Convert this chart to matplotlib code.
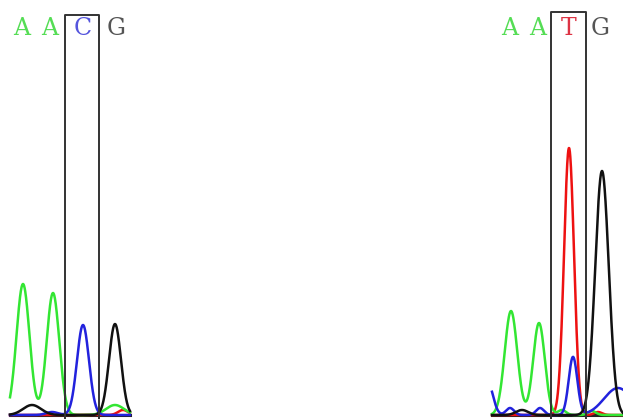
import numpy as np
import matplotlib.pyplot as plt

# peak tables: (centre, height, width) per base trace, in chart units
left_span = (10, 130)
left_peaks = {
    "green": [(23, 131, 6.5), (53, 122, 6.3), (115, 10, 9.0)],
    "blue":  [(83, 90, 6.0), (52, 3, 6.0)],
    "black": [(115, 91, 6.0), (32, 10, 9.0)],
    "red":   [(123, 5, 5.0)],
}
right_span = (492, 623)
right_peaks = {
    "green": [(511, 104, 6.3), (539, 92, 5.8), (562, 5, 4.0), (592, 4, 4.0)],
    "blue":  [(573, 58, 4.3), (488, 32, 5.0), (618, 27, 14.0), (510, 7, 4.0), (540, 7, 4.0)],
    "black": [(602, 244, 6.8), (522, 5, 6.0)],
    "red":   [(569, 267, 5.0), (598, 3, 4.0)],
}
left_bases = ["A", "A", "C", "G"]
left_base_x = [22, 50, 83, 116]
right_bases = ["A", "A", "T", "G"]
right_base_x = [510, 538, 569, 600]
left_box = (65, 99)
right_box = (551, 586)

colors = {"green": "#33e633", "blue": "#2222dd", "black": "#111111", "red": "#ee1111"}
base_colors = {"A": "#55dd55", "C": "#5555dd", "T": "#dd3344", "G": "#555555"}

fig = plt.figure(figsize=(6.23, 4.19), dpi=100)
ax = fig.add_axes([0, 0, 1, 1])
ax.set_xlim(0, 623)
ax.set_ylim(-4, 415)
ax.axis("off")


def trace(span, peaks):
    x = np.linspace(span[0], span[1], 600)
    y = np.zeros_like(x)
    for c, h, w in peaks:
        y += h * np.exp(-0.5 * ((x - c) / w) ** 2)
    return x, y


for span, peaks in [(left_span, left_peaks), (right_span, right_peaks)]:
    ax.plot(span, [0, 0], color="#222222", lw=2.2, zorder=1)
    for name in ["red", "green", "blue", "black"]:
        x, y = trace(span, peaks[name])
        ax.plot(x, y, color=colors[name], lw=1.8, zorder=2)

for (x0, x1), top in [(left_box, 400), (right_box, 403)]:
    ax.plot([x0, x0, x1, x1], [-4, top, top, -4], color="#333333", lw=1.4, zorder=3)

for bases, xs in [(left_bases, left_base_x), (right_bases, right_base_x)]:
    for b, xb in zip(bases, xs):
        ax.text(xb, 386, b, color=base_colors[b], fontsize=17, family="DejaVu Serif",
                ha="center", va="center")

fig.savefig("out.png", dpi=100)
